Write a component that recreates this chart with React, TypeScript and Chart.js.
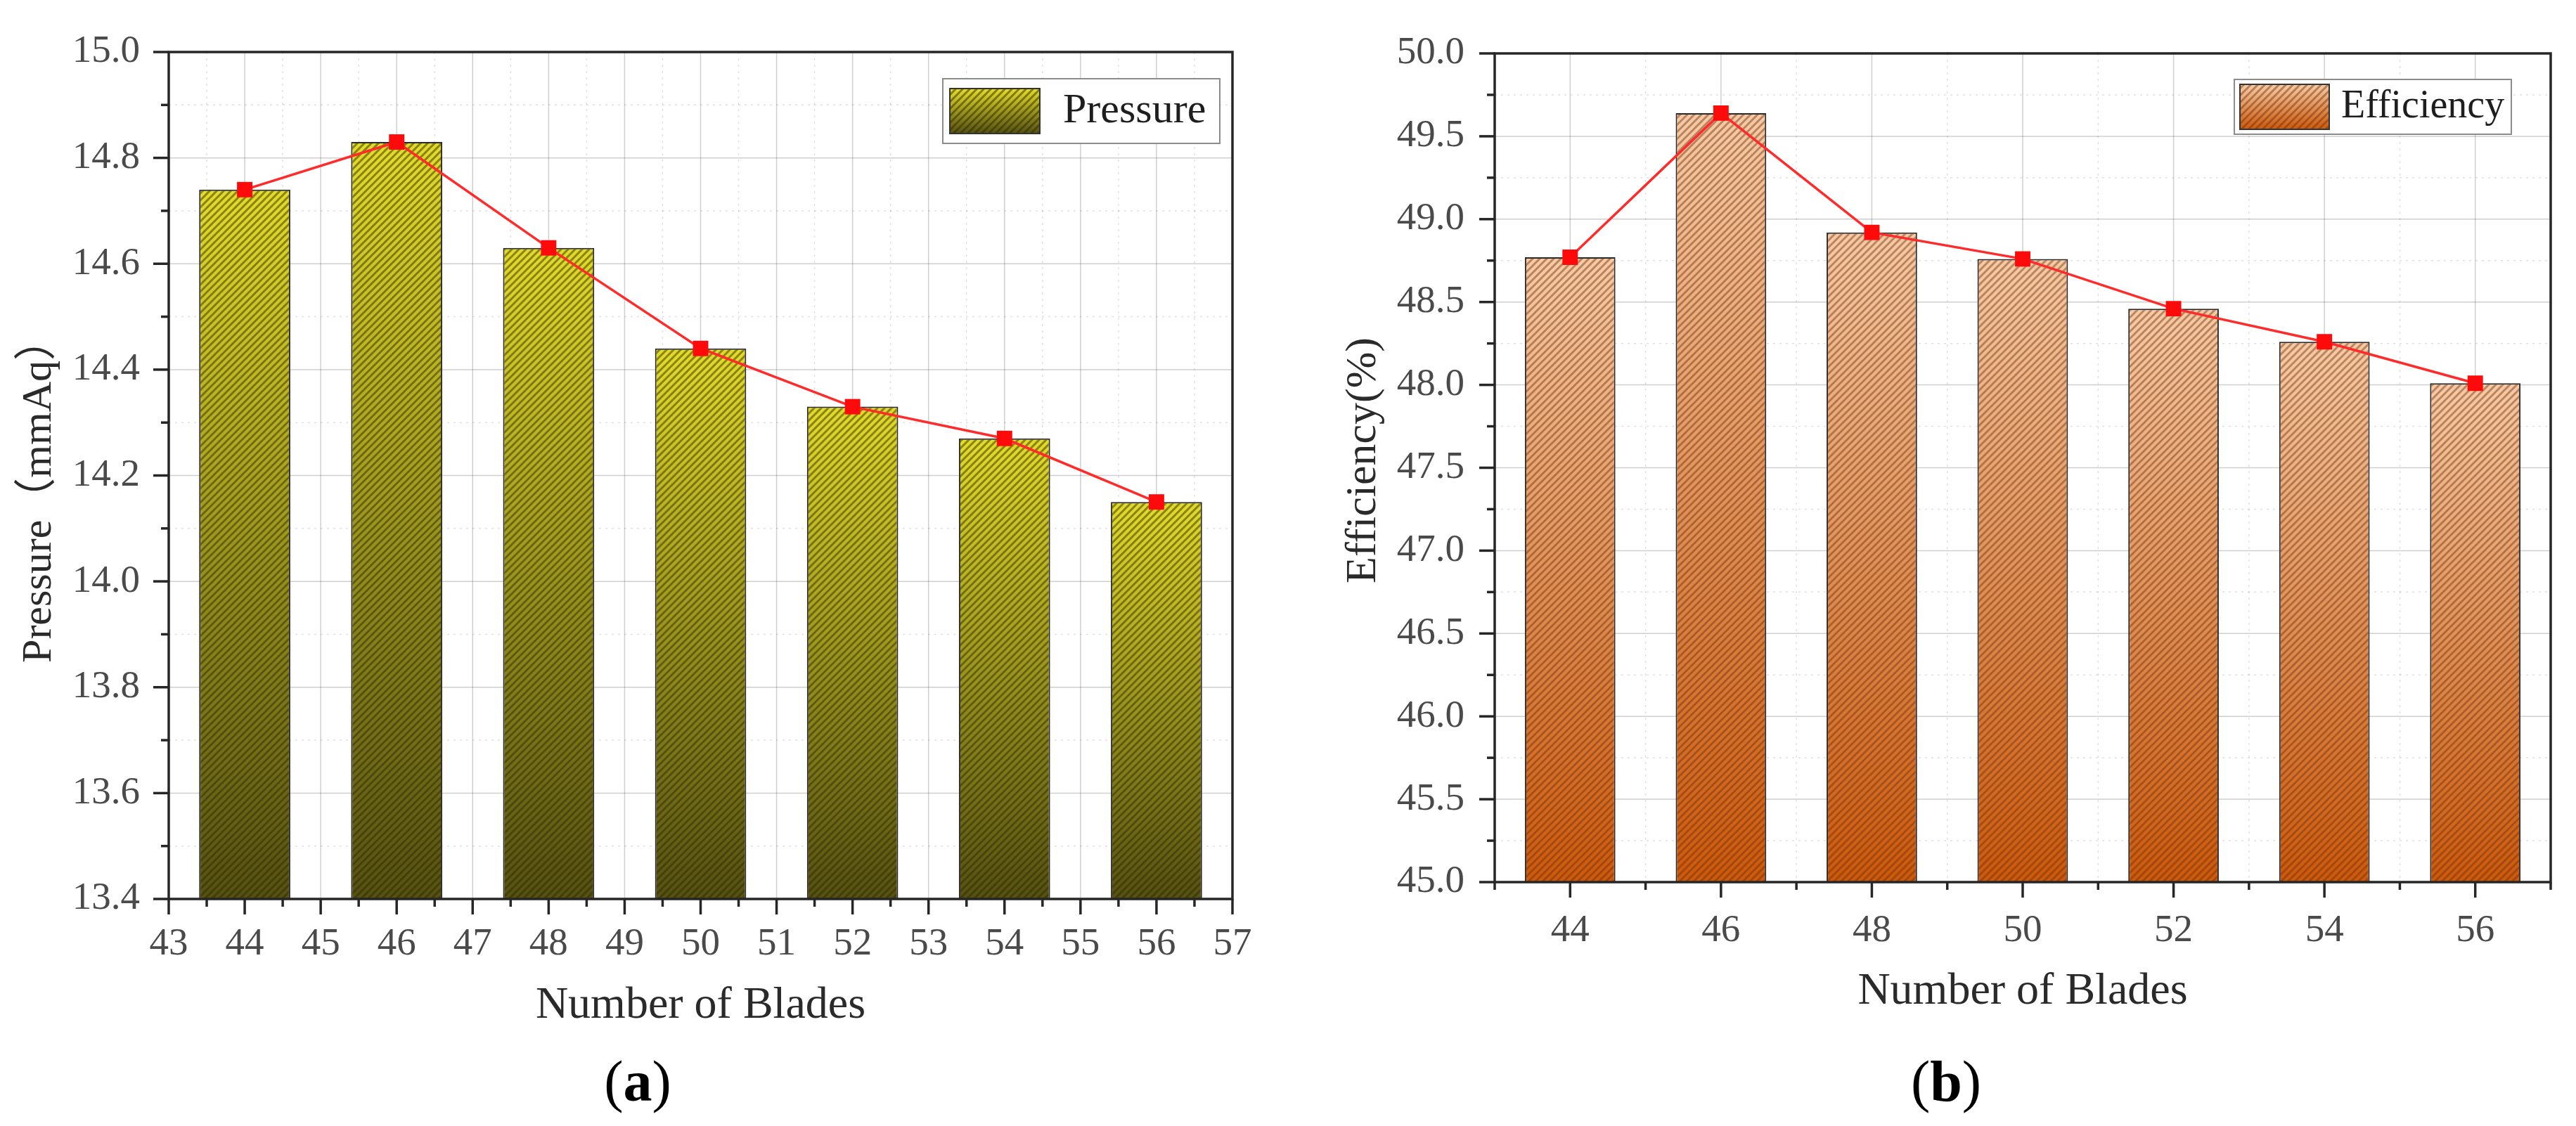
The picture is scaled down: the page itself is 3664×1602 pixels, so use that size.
import { useEffect, useRef } from 'react';
import { Chart, registerables } from 'chart.js';

Chart.register(...registerables);

// number of blades (both panels)
const blades = [44, 46, 48, 50, 52, 54, 56];
// (a) pressure in mmAq
const pressure = [14.74, 14.83, 14.63, 14.44, 14.33, 14.27, 14.15];
// (b) efficiency in %
const efficiency = [48.77, 49.64, 48.92, 48.76, 48.46, 48.26, 48.01];

// tick labels
const pressureXTicks = [43, 44, 45, 46, 47, 48, 49, 50, 51, 52, 53, 54, 55, 56, 57];
const pressureYTicks = [13.4, 13.6, 13.8, 14.0, 14.2, 14.4, 14.6, 14.8, 15.0];
const efficiencyYTicks = [45.0, 45.5, 46.0, 46.5, 47.0, 47.5, 48.0, 48.5, 49.0, 49.5, 50.0];

const SERIF = '"Liberation Serif", "Times New Roman", "Noto Sans CJK SC", serif';
const W = 1832;
const H = 1602;

type Look = { top: string; bottom: string; hatch: string; period: number; width: number };

const pressureLook: Look = { top: '#e4dc2c', bottom: '#555112', hatch: 'rgba(45,40,0,0.5)', period: 10, width: 3 };
const efficiencyLook: Look = { top: '#f7cca6', bottom: '#cc5a0c', hatch: 'rgba(110,45,10,0.45)', period: 10, width: 3 };

// gradient (top -> bottom) with diagonal hatching, anchored at a given y
function makeFill(target: CanvasRenderingContext2D, top: number, height: number, look: Look) {
  const h = Math.max(2, Math.ceil(height));
  const w = look.period * 8;
  const c = document.createElement('canvas');
  c.width = w;
  c.height = h;
  const g = c.getContext('2d')!;
  const grad = g.createLinearGradient(0, 0, 0, h);
  grad.addColorStop(0, look.top);
  grad.addColorStop(1, look.bottom);
  g.fillStyle = grad;
  g.fillRect(0, 0, w, h);
  g.strokeStyle = look.hatch;
  g.lineWidth = look.width;
  g.beginPath();
  for (let i = -h - look.period; i < w + look.period; i += look.period) {
    g.moveTo(i, h);
    g.lineTo(i + h, 0);
  }
  g.stroke();
  const pat = target.createPattern(c, 'repeat')!;
  pat.setTransform(new DOMMatrix().translate(0, top));
  return pat;
}

const barFill = (look: Look) => (c: any) => {
  const chart = c.chart;
  const y = chart.scales?.y;
  if (c.type !== 'data' || !y || !chart.chartArea) return look.top;
  const top = y.getPixelForValue(c.parsed.y);
  return makeFill(chart.ctx, top, chart.chartArea.bottom - top, look);
};

const line = (ctx: CanvasRenderingContext2D, x1: number, y1: number, x2: number, y2: number) => {
  ctx.beginPath();
  ctx.moveTo(x1, y1);
  ctx.lineTo(x2, y2);
  ctx.stroke();
};

const tickPixels = (scale: any): number[] => scale.ticks.map((_: any, i: number) => scale.getPixelForTick(i));

const midPixels = (p: number[], edges?: number[]) => {
  const out: number[] = [];
  for (let i = 1; i < p.length; i++) out.push((p[i - 1] + p[i]) / 2);
  if (edges) out.push(...edges);
  return out;
};

type Panel = {
  id: string;
  look: Look;
  categoryX: boolean;
  legend: { right: number; top: number; width: number; height: number; inset: number; swatchW: number; swatchH: number; gap: number; size: number };
  yTitle: { text: string; x: number; y: number; size: number };
  xTitle: { text: string; baseline: number; size: number };
  tag: { letter: string; x: number; baseline: number; size: number };
};

function panelPlugin(p: Panel) {
  return {
    id: 'panel-' + p.id,
    beforeDatasetsDraw(chart: any) {
      const { ctx, chartArea: a, scales } = chart;
      const xs = tickPixels(scales.x);
      const ys = tickPixels(scales.y);
      const xm = midPixels(xs, p.categoryX ? [a.left, a.right] : undefined);
      const ym = midPixels(ys);
      ctx.save();
      ctx.lineWidth = 1.5;
      ctx.strokeStyle = 'rgba(0,0,0,0.12)';
      ctx.setLineDash([3, 6]);
      xm.forEach((x) => line(ctx, x, a.top, x, a.bottom));
      ym.forEach((y) => line(ctx, a.left, y, a.right, y));
      ctx.setLineDash([]);
      ctx.strokeStyle = 'rgba(0,0,0,0.19)';
      xs.forEach((x) => line(ctx, x, a.top, x, a.bottom));
      ys.forEach((y) => line(ctx, a.left, y, a.right, y));
      ctx.restore();
    },
    afterDatasetsDraw(chart: any) {
      const { ctx, chartArea: a, scales } = chart;
      const xs = tickPixels(scales.x);
      const ys = tickPixels(scales.y);
      const xm = midPixels(xs, p.categoryX ? [a.left, a.right] : undefined);
      const ym = midPixels(ys);
      ctx.save();
      ctx.strokeStyle = '#262626';
      ctx.lineWidth = 3.5;
      ctx.strokeRect(a.left, a.top, a.right - a.left, a.bottom - a.top);
      xs.forEach((x) => line(ctx, x, a.bottom, x, a.bottom + 22));
      xm.forEach((x) => line(ctx, x, a.bottom, x, a.bottom + 11));
      ys.forEach((y) => line(ctx, a.left - 22, y, a.left, y));
      ym.forEach((y) => line(ctx, a.left - 11, y, a.left, y));
      ctx.restore();
    },
    afterDraw(chart: any) {
      const { ctx, chartArea: a } = chart;
      ctx.save();

      // legend box
      const L = p.legend;
      const bar = chart.data.datasets.find((d: any) => d.type === 'bar');
      const bx = a.right - L.right - L.width;
      const by = a.top + L.top;
      ctx.fillStyle = '#ffffff';
      ctx.fillRect(bx, by, L.width, L.height);
      ctx.strokeStyle = '#8c8c8c';
      ctx.lineWidth = 2;
      ctx.strokeRect(bx, by, L.width, L.height);
      const sx = bx + L.inset;
      const sy = by + (L.height - L.swatchH) / 2;
      ctx.fillStyle = makeFill(ctx, sy, L.swatchH, p.look);
      ctx.fillRect(sx, sy, L.swatchW, L.swatchH);
      ctx.strokeStyle = '#333';
      ctx.strokeRect(sx, sy, L.swatchW, L.swatchH);
      ctx.fillStyle = '#1e1e1e';
      ctx.font = `${L.size}px ${SERIF}`;
      ctx.textAlign = 'left';
      ctx.textBaseline = 'middle';
      ctx.fillText(bar.label, sx + L.swatchW + L.gap, by + L.height / 2);

      // axis titles
      ctx.fillStyle = '#2a2a2a';
      ctx.textBaseline = 'alphabetic';
      ctx.textAlign = 'center';
      ctx.font = `${p.xTitle.size}px ${SERIF}`;
      ctx.fillText(p.xTitle.text, (a.left + a.right) / 2, p.xTitle.baseline);
      ctx.save();
      ctx.translate(p.yTitle.x, p.yTitle.y);
      ctx.rotate(-Math.PI / 2);
      ctx.font = `${p.yTitle.size}px ${SERIF}`;
      ctx.fillText(p.yTitle.text, 0, 0);
      ctx.restore();

      // panel tag, bold letter
      const reg = `${p.tag.size}px ${SERIF}`;
      const bold = `bold ${p.tag.size}px ${SERIF}`;
      ctx.fillStyle = '#000';
      ctx.textAlign = 'left';
      ctx.font = reg;
      const wp = ctx.measureText('(').width;
      const wc = ctx.measureText(')').width;
      ctx.font = bold;
      const wl = ctx.measureText(p.tag.letter).width;
      let x = p.tag.x - (wp + wl + wc) / 2;
      ctx.font = reg;
      ctx.fillText('(', x, p.tag.baseline);
      x += wp;
      ctx.font = bold;
      ctx.fillText(p.tag.letter, x, p.tag.baseline);
      x += wl;
      ctx.font = reg;
      ctx.fillText(')', x, p.tag.baseline);
      ctx.restore();
    },
  };
}

const tickFont = { family: SERIF, size: 55 };
const tickColor = '#4a4a4a';
const redLine = {
  type: 'line' as const,
  borderColor: '#ff2a2a',
  borderWidth: 3.5,
  pointStyle: 'rect' as const,
  pointRadius: 15.5,
  pointBackgroundColor: '#ff0a0a',
  pointBorderWidth: 0,
  order: 0,
};

const pressurePanel: Panel = {
  id: 'a',
  look: pressureLook,
  categoryX: false,
  legend: { right: 18, top: 38, width: 394, height: 92, inset: 10, swatchW: 128, swatchH: 64, gap: 33, size: 60 },
  yTitle: { text: 'Pressure（mmAq）', x: 72, y: 698, size: 60 },
  xTitle: { text: 'Number of Blades', baseline: 1448, size: 64 },
  tag: { letter: 'a', x: 907, baseline: 1566, size: 82 },
};

const efficiencyPanel: Panel = {
  id: 'b',
  look: efficiencyLook,
  categoryX: true,
  legend: { right: 56, top: 37, width: 394, height: 78, inset: 8, swatchW: 127, swatchH: 64, gap: 17, size: 56 },
  yTitle: { text: 'Efficiency(%)', x: 124, y: 655, size: 62 },
  xTitle: { text: 'Number of Blades', baseline: 1428, size: 64 },
  tag: { letter: 'b', x: 936, baseline: 1566, size: 82 },
};

function makePressureChart(canvas: HTMLCanvasElement) {
  const points = blades.map((b, i) => ({ x: b, y: pressure[i] }));
  return new Chart(canvas, {
    type: 'bar',
    data: {
      datasets: [
        { ...redLine, label: 'Pressure line', data: points } as any,
        {
          type: 'bar',
          label: 'Pressure',
          data: points,
          base: pressureYTicks[0],
          backgroundColor: barFill(pressureLook),
          borderColor: '#2b2b2b',
          borderWidth: 2,
          categoryPercentage: 1,
          barPercentage: 1.2,
          order: 1,
        } as any,
      ],
    },
    options: {
      responsive: false,
      maintainAspectRatio: false,
      devicePixelRatio: 1,
      animation: false,
      layout: { padding: { top: 55, right: 79, bottom: 0, left: 0 } },
      plugins: { legend: { display: false }, tooltip: { enabled: false } },
      scales: {
        x: {
          type: 'linear',
          min: pressureXTicks[0],
          max: pressureXTicks[pressureXTicks.length - 1],
          offset: false,
          grid: { display: false, drawTicks: false },
          border: { display: false },
          afterBuildTicks: (s: any) => {
            s.ticks = pressureXTicks.map((v) => ({ value: v }));
          },
          afterFit: (s: any) => {
            s.height = H - 1279;
          },
          ticks: { autoSkip: false, maxRotation: 0, padding: 32, font: tickFont, color: tickColor, callback: (v: any) => String(v) },
        },
        y: {
          min: pressureYTicks[0],
          max: pressureYTicks[pressureYTicks.length - 1],
          grid: { display: false, drawTicks: false },
          border: { display: false },
          afterBuildTicks: (s: any) => {
            s.ticks = pressureYTicks.map((v) => ({ value: v }));
          },
          afterFit: (s: any) => {
            s.width = 240;
          },
          ticks: { autoSkip: false, padding: 41, font: tickFont, color: tickColor, callback: (v: any) => Number(v).toFixed(1) },
        },
      },
    } as any,
    plugins: [panelPlugin(pressurePanel)],
  });
}

function makeEfficiencyChart(canvas: HTMLCanvasElement) {
  return new Chart(canvas, {
    type: 'bar',
    data: {
      labels: blades.map(String),
      datasets: [
        { ...redLine, label: 'Efficiency line', data: efficiency } as any,
        {
          type: 'bar',
          label: 'Efficiency',
          data: efficiency,
          base: efficiencyYTicks[0],
          backgroundColor: barFill(efficiencyLook),
          borderColor: '#2b2b2b',
          borderWidth: 2,
          categoryPercentage: 1,
          barPercentage: 0.6,
          order: 1,
        } as any,
      ],
    },
    options: {
      responsive: false,
      maintainAspectRatio: false,
      devicePixelRatio: 1,
      animation: false,
      layout: { padding: { top: 48, right: 36, bottom: 0, left: 0 } },
      plugins: { legend: { display: false }, tooltip: { enabled: false } },
      scales: {
        x: {
          type: 'category',
          offset: true,
          grid: { display: false, drawTicks: false, offset: false },
          border: { display: false },
          afterFit: (s: any) => {
            s.height = H - 1255;
          },
          ticks: { autoSkip: false, maxRotation: 0, padding: 37, font: tickFont, color: tickColor },
        },
        y: {
          min: efficiencyYTicks[0],
          max: efficiencyYTicks[efficiencyYTicks.length - 1],
          grid: { display: false, drawTicks: false },
          border: { display: false },
          afterBuildTicks: (s: any) => {
            s.ticks = efficiencyYTicks.map((v) => ({ value: v }));
          },
          afterFit: (s: any) => {
            s.width = 294;
          },
          ticks: { autoSkip: false, padding: 43, font: tickFont, color: tickColor, callback: (v: any) => Number(v).toFixed(1) },
        },
      },
    } as any,
    plugins: [panelPlugin(efficiencyPanel)],
  });
}

const App = () => {
  const leftRef = useRef<HTMLCanvasElement | null>(null);
  const rightRef = useRef<HTMLCanvasElement | null>(null);

  useEffect(() => {
    if (!leftRef.current || !rightRef.current) return;
    const a = makePressureChart(leftRef.current);
    const b = makeEfficiencyChart(rightRef.current);
    return () => {
      a.destroy();
      b.destroy();
    };
  }, []);

  return (
    <div style={{ position: 'absolute', left: 0, top: 0, width: W * 2, height: H, background: '#fff', display: 'flex' }}>
      <canvas ref={leftRef} width={W} height={H} style={{ width: W, height: H, display: 'block' }} />
      <canvas ref={rightRef} width={W} height={H} style={{ width: W, height: H, display: 'block' }} />
    </div>
  );
};

export default App;
